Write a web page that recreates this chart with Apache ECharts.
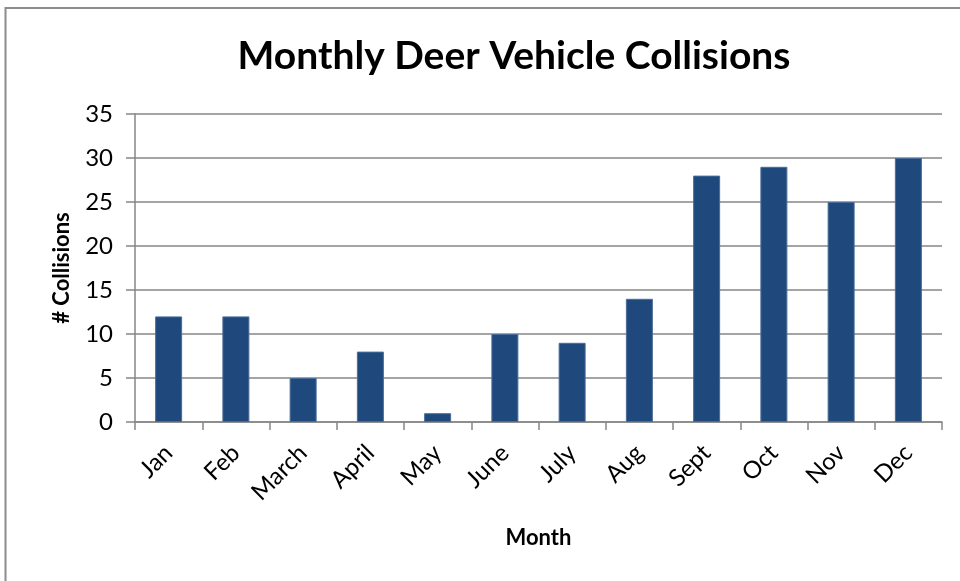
<!DOCTYPE html>
<html>
<head>
<meta charset="utf-8">
<script src="https://cdn.jsdelivr.net/npm/echarts@6/dist/echarts.min.js"></script>
<style>
  html, body { margin: 0; padding: 0; background: #fff; }
  #chart { width: 960px; height: 581px; }
</style>
</head>
<body>
<div id="chart"></div>
<script>
// Monthly deer–vehicle collision counts
const months = ['Jan', 'Feb', 'March', 'April', 'May', 'June', 'July', 'Aug', 'Sept', 'Oct', 'Nov', 'Dec'];
const collisions = [12, 12, 5, 8, 1, 10, 9, 14, 28, 29, 25, 30];
const yTicks = { min: 0, max: 35, interval: 5 };

const FONT = 'Lato, "Noto Sans", sans-serif';
const chart = echarts.init(document.getElementById('chart'), null, { renderer: 'canvas' });

chart.setOption({
  animation: false,
  backgroundColor: '#ffffff',
  title: {
    text: 'Monthly Deer Vehicle Collisions',
    left: 509,
    top: 32,
    textAlign: 'center',
    textStyle: { fontFamily: FONT, fontWeight: 'bold', fontSize: 39, color: '#000' }
  },
  graphic: [{
    type: 'rect',
    shape: { x: 5.5, y: 8, width: 970, height: 600 },
    style: { fill: 'none', stroke: '#8c8c8c', lineWidth: 2 },
    silent: true
  }],
  grid: { left: 135, right: 18, top: 114, bottom: 159 },
  xAxis: {
    type: 'category',
    data: months,
    name: 'Month',
    nameLocation: 'middle',
    nameGap: 105,
    nameTextStyle: { fontFamily: FONT, fontWeight: 'bold', fontSize: 22, color: '#000' },
    axisLine: { lineStyle: { color: '#868686', width: 1.5 } },
    axisTick: { show: true, length: 8, alignWithLabel: false, lineStyle: { color: '#868686', width: 1.5 } },
    axisLabel: { rotate: 45, margin: 27, fontFamily: FONT, fontSize: 24, color: '#000' }
  },
  yAxis: {
    type: 'value',
    min: yTicks.min,
    max: yTicks.max,
    interval: yTicks.interval,
    name: '# Collisions',
    nameLocation: 'middle',
    nameGap: 62,
    nameTextStyle: { fontFamily: FONT, fontWeight: 'bold', fontSize: 22, color: '#000' },
    axisLine: { show: true, lineStyle: { color: '#868686', width: 1.5 } },
    axisTick: { show: true, length: 9, lineStyle: { color: '#868686', width: 1.5 } },
    axisLabel: { margin: 22, fontFamily: FONT, fontSize: 24, color: '#000' },
    splitLine: { show: true, lineStyle: { color: '#868686', width: 1.5 } }
  },
  series: [{
    type: 'bar',
    data: collisions,
    barWidth: 27,
    itemStyle: { color: '#1f497d', borderColor: '#4a6d99', borderWidth: 1 }
  }]
});
</script>
</body>
</html>
